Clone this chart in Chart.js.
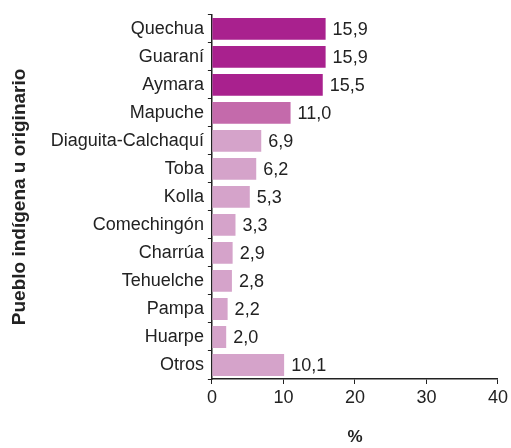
<!DOCTYPE html>
<html>
<head>
<meta charset="utf-8">
<script src="https://cdn.jsdelivr.net/npm/chart.js@4.4.1/dist/chart.umd.min.js"></script>
<style>
  html, body { margin: 0; padding: 0; background: #fff; }
  #wrap { width: 511px; height: 448px; }
</style>
</head>
<body>
<div id="wrap"><canvas id="chart" width="511" height="448"></canvas></div>
<script>
// Pueblos indígenas — porcentaje
const pueblos = ['Quechua', 'Guaraní', 'Aymara', 'Mapuche', 'Diaguita-Calchaquí', 'Toba', 'Kolla',
  'Comechingón', 'Charrúa', 'Tehuelche', 'Pampa', 'Huarpe', 'Otros'];
const porcentajes = [15.9, 15.9, 15.5, 11.0, 6.9, 6.2, 5.3, 3.3, 2.9, 2.8, 2.2, 2.0, 10.1];
const xTicks = [0, 10, 20, 30, 40];

const colores = porcentajes.map((v, i) => i < 3 ? '#a9218e' : (i === 3 ? '#c46aab' : '#d5a3ca'));

const fmt = (v) => v.toFixed(1).replace('.', ',');
const FONT = 'Liberation Sans';

const valueLabels = {
  id: 'valueLabels',
  afterDatasetsDraw(chart) {
    const ctx = chart.ctx;
    const meta = chart.getDatasetMeta(0);
    ctx.save();
    ctx.font = '18px "Liberation Sans", Arial, sans-serif';
    ctx.fillStyle = '#222';
    ctx.textBaseline = 'middle';
    ctx.textAlign = 'left';
    meta.data.forEach((bar, i) => {
      ctx.fillText(fmt(porcentajes[i]), bar.x + 7, bar.y + 1);
    });
    ctx.restore();
  }
};

new Chart(document.getElementById('chart'), {
  type: 'bar',
  data: {
    labels: pueblos,
    datasets: [{
      data: porcentajes,
      backgroundColor: colores,
      borderWidth: 0,
      barPercentage: 0.78,
      categoryPercentage: 1.0,
    }]
  },
  options: {
    indexAxis: 'y',
    responsive: false,
    animation: false,
    layout: { padding: { top: 14, right: 4, bottom: 0, left: 8 } },
    plugins: {
      legend: { display: false },
      tooltip: { enabled: false }
    },
    scales: {
      x: {
        min: 0,
        max: 40,
        afterBuildTicks: (axis) => { axis.ticks = xTicks.map(v => ({ value: v })); },
        grid: { drawOnChartArea: false, tickLength: 5, color: '#222', tickColor: '#222' },
        border: { display: true, color: '#222', width: 1.5 },
        ticks: { color: '#222', font: { family: FONT, size: 18 }, padding: 3 },
        title: {
          display: true, text: '%', color: '#222',
          font: { family: FONT, size: 17, weight: 'bold' },
          padding: { top: 16, bottom: 0 }
        }
      },
      y: {
        grid: { drawOnChartArea: false, tickLength: 4, color: '#222', tickColor: '#222', offset: true },
        border: { display: true, color: '#222', width: 1.5 },
        ticks: { color: '#222', font: { family: FONT, size: 18 }, padding: 4 },
        title: {
          display: true, text: 'Pueblo indígena u originario', color: '#222',
          font: { family: FONT, size: 19, weight: 'bold' },
          padding: { top: 0, bottom: 16 }
        }
      }
    }
  },
  plugins: [valueLabels]
});
</script>
</body>
</html>
